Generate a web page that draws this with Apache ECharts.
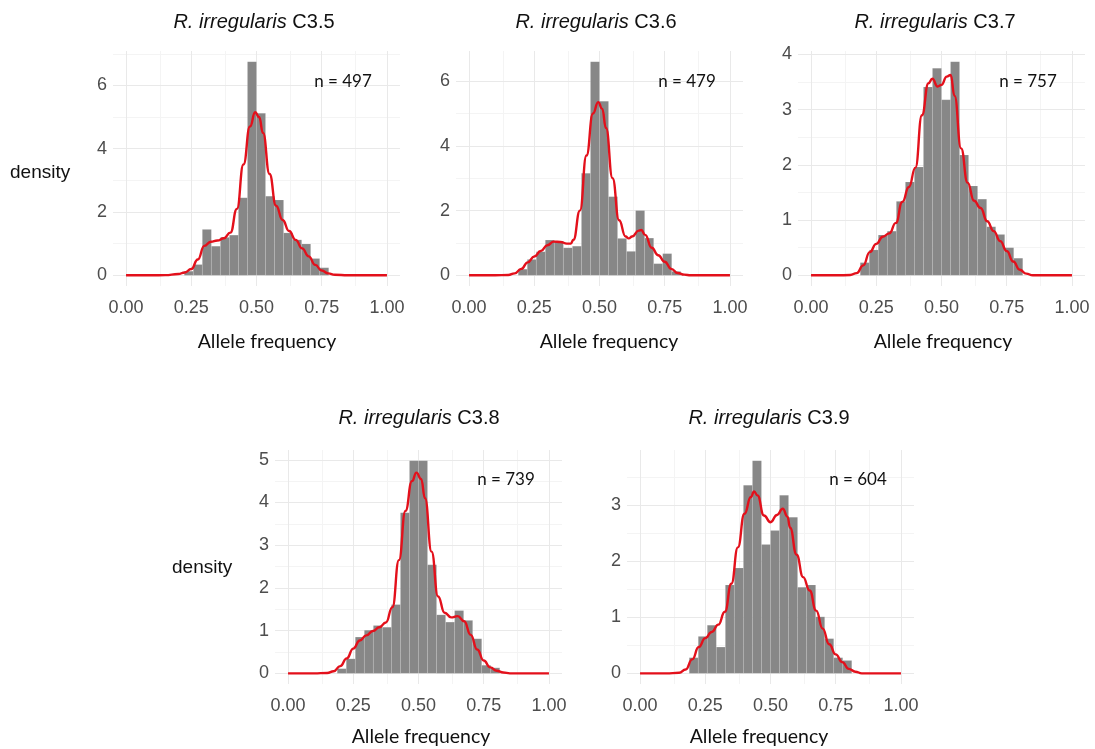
<!DOCTYPE html>
<html>
<head>
<meta charset="utf-8">
<script src="https://cdn.jsdelivr.net/npm/echarts@6/dist/echarts.min.js"></script>
<style>
  html, body { margin: 0; padding: 0; background: #ffffff; }
  #chart { width: 1095px; height: 749px; }
</style>
</head>
<body>
<div id="chart"></div>
<script>
// Allele-frequency histograms (density scale) with kernel density overlays
const strainLabels = ['C3.5', 'C3.6', 'C3.7', 'C3.8', 'C3.9'];
const sampleSizes = [497, 479, 757, 739, 604];

// Histogram bins: common width, lower edge of the first bin per strain
const binWidth = 0.0346;
const binStarts = [0.2232, 0.1886, 0.1886, 0.1886, 0.1886];

// Bar heights (density) per strain
const histC35 = [0.13, 0.34, 1.45, 0.92, 1.20, 1.27, 2.45, 6.75, 5.12, 2.50, 2.38, 1.34, 1.12, 0.99, 0.53, 0.24];
const histC36 = [0.19, 0.49, 0.73, 1.09, 1.06, 0.85, 0.90, 3.15, 6.60, 5.38, 2.43, 1.14, 0.74, 2.00, 1.15, 0.36, 0.67, 0.12];
const histC37 = [0.23, 0.46, 0.73, 0.80, 1.34, 1.69, 1.96, 3.41, 3.75, 3.18, 3.87, 2.18, 1.62, 1.38, 0.88, 0.74, 0.50, 0.31];
const histC38 = [0.11, 0.34, 0.85, 1.01, 1.12, 1.08, 1.61, 3.76, 4.98, 4.98, 2.54, 1.37, 1.20, 1.47, 1.24, 0.81, 0.19, 0.13];
const histC39 = [0.28, 0.66, 0.86, 0.47, 1.58, 1.88, 3.36, 3.80, 2.30, 2.55, 3.18, 2.79, 1.54, 1.58, 1.01, 0.62, 0.28, 0.23];

// Kernel density estimates, [allele frequency, density]
const densC35 = [[0, 0], [0.1, 0], [0.15, 0.005], [0.2, 0.04], [0.225, 0.09], [0.25, 0.2], [0.275, 0.5], [0.3, 0.93],
  [0.325, 1.06], [0.35, 1.1], [0.375, 1.17], [0.4, 1.35], [0.425, 2.1], [0.45, 3.5], [0.475, 4.7], [0.495, 5.15],
  [0.51, 5.0], [0.525, 4.5], [0.55, 3.2], [0.575, 2.2], [0.6, 1.75], [0.625, 1.4], [0.65, 1.12], [0.675, 0.85],
  [0.7, 0.6], [0.725, 0.33], [0.75, 0.15], [0.775, 0.06], [0.8, 0.02], [0.85, 0], [0.9, 0], [1, 0]];
const densC36 = [[0, 0], [0.1, 0], [0.15, 0.01], [0.175, 0.06], [0.2, 0.2], [0.225, 0.4], [0.25, 0.58], [0.275, 0.75],
  [0.3, 0.93], [0.325, 1.04], [0.35, 1.03], [0.375, 0.98], [0.39, 0.98], [0.4, 1.1], [0.425, 2.0], [0.45, 3.7],
  [0.475, 5.0], [0.495, 5.35], [0.51, 5.15], [0.525, 4.55], [0.55, 3.0], [0.575, 1.7], [0.6, 1.2], [0.612, 1.14],
  [0.625, 1.2], [0.65, 1.38], [0.66, 1.4], [0.675, 1.25], [0.7, 0.85], [0.725, 0.62], [0.75, 0.42], [0.775, 0.2],
  [0.8, 0.07], [0.825, 0.02], [0.85, 0], [0.9, 0], [1, 0]];
const densC37 = [[0, 0], [0.1, 0], [0.15, 0.005], [0.175, 0.04], [0.2, 0.18], [0.225, 0.42], [0.25, 0.57], [0.275, 0.7],
  [0.3, 0.76], [0.325, 0.95], [0.35, 1.33], [0.375, 1.6], [0.4, 1.95], [0.425, 2.9], [0.45, 3.48], [0.465, 3.56],
  [0.485, 3.42], [0.5, 3.45], [0.52, 3.6], [0.535, 3.63], [0.55, 3.25], [0.575, 2.3], [0.6, 1.68], [0.625, 1.35],
  [0.65, 1.22], [0.675, 0.98], [0.7, 0.8], [0.725, 0.62], [0.75, 0.44], [0.775, 0.25], [0.8, 0.1], [0.825, 0.03],
  [0.85, 0], [0.9, 0], [1, 0]];
const densC38 = [[0, 0], [0.1, 0], [0.15, 0.01], [0.175, 0.05], [0.2, 0.17], [0.225, 0.35], [0.25, 0.58], [0.275, 0.77],
  [0.3, 0.89], [0.325, 0.99], [0.35, 1.08], [0.375, 1.19], [0.4, 1.55], [0.425, 2.65], [0.45, 3.8], [0.475, 4.5],
  [0.492, 4.7], [0.51, 4.55], [0.525, 4.1], [0.55, 2.85], [0.575, 1.8], [0.6, 1.42], [0.625, 1.31], [0.65, 1.34],
  [0.675, 1.22], [0.7, 0.9], [0.725, 0.56], [0.75, 0.3], [0.775, 0.14], [0.8, 0.06], [0.825, 0.02], [0.85, 0],
  [0.9, 0], [1, 0]];
const densC39 = [[0, 0], [0.1, 0], [0.15, 0.01], [0.175, 0.07], [0.2, 0.25], [0.225, 0.47], [0.25, 0.63], [0.275, 0.74],
  [0.3, 0.87], [0.325, 1.1], [0.35, 1.6], [0.375, 2.25], [0.4, 2.85], [0.425, 3.15], [0.437, 3.25], [0.45, 3.18],
  [0.475, 2.82], [0.5, 2.7], [0.525, 2.83], [0.547, 2.94], [0.565, 2.8], [0.575, 2.6], [0.6, 2.12], [0.625, 1.72],
  [0.65, 1.48], [0.675, 1.12], [0.7, 0.8], [0.725, 0.52], [0.75, 0.34], [0.775, 0.2], [0.8, 0.08], [0.825, 0.03],
  [0.85, 0], [0.9, 0], [1, 0]];

// Axis ticks
const xTicks = [0, 0.25, 0.5, 0.75, 1];
const xMinorTicks = [0.125, 0.375, 0.625, 0.875];
const yStepPerStrain = [2, 2, 1, 1, 1];

const histograms = [histC35, histC36, histC37, histC38, histC39];
const densities = [densC35, densC36, densC37, densC38, densC39];

// Panel placement (pixels)
const panels = [
  { left: 113, top: 51, width: 287, height: 235, titleX: 254, titleY: 22, axisTitleX: 267, axisTitleY: 342, nX: 343, nY: 82 },
  { left: 456, top: 51, width: 287, height: 235, titleX: 596, titleY: 22, axisTitleX: 609, axisTitleY: 342, nX: 687, nY: 82 },
  { left: 798, top: 51, width: 287, height: 235, titleX: 935, titleY: 22, axisTitleX: 943, axisTitleY: 342, nX: 1028, nY: 82 },
  { left: 275, top: 450, width: 287, height: 234, titleX: 419, titleY: 418, axisTitleX: 421, axisTitleY: 737, nX: 506, nY: 480 },
  { left: 627, top: 450, width: 287, height: 234, titleX: 769, titleY: 418, axisTitleX: 759, axisTitleY: 737, nX: 858, nY: 480 }
];
const densityLabels = [{ x: 10, y: 173 }, { x: 172, y: 568 }];

const FONT_SANS = '"Liberation Sans", Arial, Helvetica, sans-serif';
const FONT_ROUND = 'Lato, "Open Sans", sans-serif';
const RED = '#e3101b';
const BAR_GREY = '#878787';
const GRID_MAJOR = '#e9e9e9';
const GRID_MINOR = '#f4f4f4';

const grids = [], xAxes = [], yAxes = [], series = [], graphics = [];

panels.forEach(function (p, i) {
  const hist = histograms[i];
  const ymax = Math.max.apply(null, hist.concat(densities[i].map(function (d) { return d[1]; })));
  const ymin = -0.05 * ymax;
  const ytop = 1.05 * ymax;
  const step = yStepPerStrain[i];

  const yMajor = [], yMinor = [];
  for (let v = 0; v <= ytop + 1e-9; v += step / 2) {
    const k = Math.round(v / (step / 2));
    if (k % 2 === 0) yMajor.push(+v.toFixed(3)); else yMinor.push(+v.toFixed(3));
  }

  grids.push({ left: p.left, top: p.top, width: p.width, height: p.height, containLabel: false });

  xAxes.push({
    gridIndex: i, type: 'value', min: -0.05, max: 1.05,
    axisLine: { show: false }, axisTick: { show: false }, splitLine: { show: false },
    axisLabel: {
      customValues: xTicks, margin: 13, color: '#4d4d4d', fontSize: 18, fontFamily: FONT_SANS,
      formatter: function (v) { return v.toFixed(2); }
    }
  });
  yAxes.push({
    gridIndex: i, type: 'value', min: ymin, max: ytop,
    axisLine: { show: false }, axisTick: { show: false }, splitLine: { show: false },
    axisLabel: {
      customValues: yMajor, margin: 6, color: '#4d4d4d', fontSize: 18, fontFamily: FONT_SANS,
      formatter: function (v) { return String(Math.round(v)); }
    }
  });

  // background grid lines (minor, then major) on the bottom layer
  const gridLineData = []
    .concat(xMinorTicks.map(function (v) { return { xAxis: v, lineStyle: { color: GRID_MINOR, width: 1, type: 'solid' } }; }))
    .concat(yMinor.map(function (v) { return { yAxis: v, lineStyle: { color: GRID_MINOR, width: 1, type: 'solid' } }; }))
    .concat(xTicks.map(function (v) { return { xAxis: v, lineStyle: { color: GRID_MAJOR, width: 1, type: 'solid' } }; }))
    .concat(yMajor.map(function (v) { return { yAxis: v, lineStyle: { color: GRID_MAJOR, width: 1, type: 'solid' } }; }));
  series.push({
    type: 'line', xAxisIndex: i, yAxisIndex: i, data: [], zlevel: 0, z: 1, silent: true,
    markLine: { silent: true, symbol: ['none', 'none'], label: { show: false }, animation: false, data: gridLineData }
  });

  // histogram bars
  const start = binStarts[i];
  series.push({
    type: 'custom', xAxisIndex: i, yAxisIndex: i, zlevel: 1, z: 2, silent: true,
    data: hist.map(function (h, k) { return [start + k * binWidth, start + (k + 1) * binWidth, h]; }),
    encode: { x: [0, 1], y: 2 },
    renderItem: function (params, api) {
      const a = api.coord([api.value(0), api.value(2)]);
      const b = api.coord([api.value(1), 0]);
      return {
        type: 'rect',
        shape: { x: a[0], y: a[1], width: b[0] - a[0], height: b[1] - a[1] },
        style: { fill: BAR_GREY, stroke: 'rgba(255,255,255,0.18)', lineWidth: 0.6 }
      };
    }
  });

  // density curve
  series.push({
    type: 'line', xAxisIndex: i, yAxisIndex: i, zlevel: 1, z: 3, silent: true,
    data: densities[i], smooth: 0.5, smoothMonotone: 'x', showSymbol: false,
    lineStyle: { color: RED, width: 2.4 }
  });

  graphics.push({
    type: 'text', x: p.titleX, y: p.titleY, zlevel: 1,
    style: {
      text: '{i|R. irregularis} ' + strainLabels[i],
      fontFamily: FONT_SANS, fontSize: 20, fill: '#111111', align: 'center', verticalAlign: 'middle',
      rich: { i: { fontStyle: 'italic', fontFamily: FONT_SANS, fontSize: 20, fill: '#111111' } }
    }
  });
  graphics.push({
    type: 'text', x: p.axisTitleX, y: p.axisTitleY, zlevel: 1,
    style: { text: 'Allele frequency', fontFamily: FONT_ROUND, fontSize: 19.5, fill: '#111111', align: 'center', verticalAlign: 'middle' }
  });
  graphics.push({
    type: 'text', x: p.nX, y: p.nY, zlevel: 1,
    style: { text: 'n = ' + sampleSizes[i], fontFamily: FONT_ROUND, fontSize: 17, fill: '#111111', align: 'center', verticalAlign: 'middle' }
  });
});

densityLabels.forEach(function (d) {
  graphics.push({
    type: 'text', x: d.x, y: d.y, zlevel: 1,
    style: { text: 'density', fontFamily: FONT_SANS, fontSize: 19, fill: '#111111', align: 'left', verticalAlign: 'middle' }
  });
});

const chart = echarts.init(document.getElementById('chart'), null, { renderer: 'canvas' });
chart.setOption({
  animation: false,
  backgroundColor: '#ffffff',
  grid: grids,
  xAxis: xAxes,
  yAxis: yAxes,
  series: series,
  graphic: graphics
});
</script>
</body>
</html>
